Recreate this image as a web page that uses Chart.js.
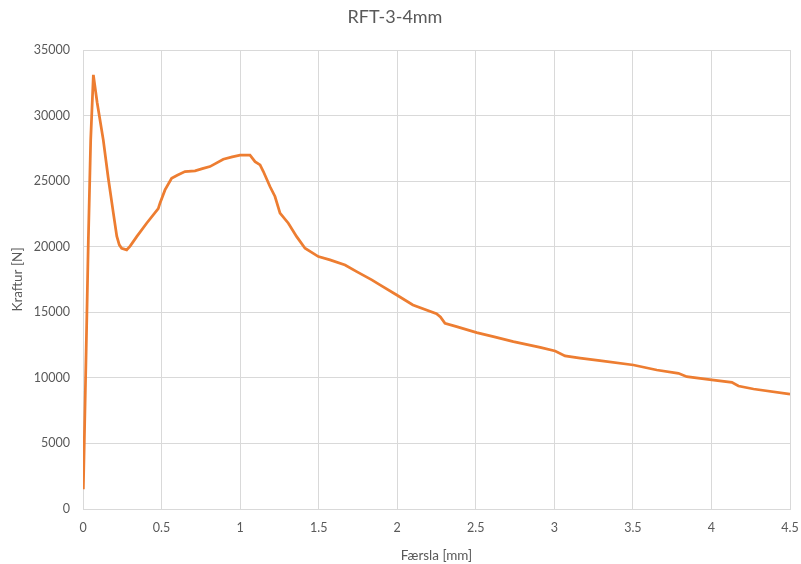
<!DOCTYPE html>
<html>
<head>
<meta charset="utf-8">
<script src="https://cdn.jsdelivr.net/npm/chart.js@4/dist/chart.umd.min.js"></script>
<style>
html,body{margin:0;padding:0;background:#fff;}
#wrap{width:801px;height:564px;position:relative;}
</style>
</head>
<body>
<div id="wrap"><canvas id="c" width="801" height="564"></canvas></div>
<script>
const chartTitle = "RFT-3-4mm";
const xTitle = "Færsla [mm]";
const yTitle = "Kraftur [N]";
const displacement = [0.002, 0.02, 0.034, 0.049, 0.066, 0.09, 0.129, 0.16, 0.193, 0.215, 0.231, 0.246, 0.278, 0.3, 0.342, 0.405, 0.479, 0.49, 0.522, 0.564, 0.6, 0.649, 0.713, 0.76, 0.808, 0.893, 0.95, 1.0, 1.063, 1.095, 1.127, 1.148, 1.19, 1.222, 1.254, 1.307, 1.36, 1.413, 1.498, 1.572, 1.668, 1.742, 1.838, 1.89, 1.997, 2.1, 2.25, 2.275, 2.304, 2.378, 2.506, 2.612, 2.739, 2.91, 3.005, 3.068, 3.164, 3.29, 3.503, 3.652, 3.79, 3.843, 4.002, 4.13, 4.172, 4.268, 4.5];
const force = [1500, 12000, 20500, 28150, 33100, 31000, 28150, 25300, 22580, 20800, 20140, 19880, 19760, 20050, 20770, 21790, 22900, 23320, 24330, 25220, 25450, 25730, 25780, 25950, 26110, 26670, 26850, 26980, 26980, 26490, 26240, 25730, 24590, 23830, 22560, 21790, 20770, 19880, 19250, 19000, 18610, 18100, 17470, 17090, 16320, 15560, 14900, 14650, 14160, 13910, 13450, 13150, 12760, 12330, 12050, 11670, 11500, 11310, 10980, 10600, 10350, 10090, 9840, 9660, 9380, 9150, 8750];
const xTicks = [0, 0.5, 1, 1.5, 2, 2.5, 3, 3.5, 4, 4.5];
const yTicks = [0, 5000, 10000, 15000, 20000, 25000, 30000, 35000];

const points = displacement.map((x, i) => ({x: x, y: force[i]}));
const fontFam = "Lato, 'Open Sans', sans-serif";
const txt = "#595959";
const grid = "#d9d9d9";

new Chart(document.getElementById('c'), {
  type: 'scatter',
  data: {
    datasets: [{
      data: points,
      showLine: true,
      borderColor: '#ED7D31',
      backgroundColor: '#ED7D31',
      borderWidth: 2.75,
      pointRadius: 0,
      tension: 0
    }]
  },
  options: {
    responsive: false,
    animation: false,
    layout: {padding: {left: 0, right: 11, top: 0, bottom: 0}},
    plugins: {
      legend: {display: false},
      tooltip: {enabled: false},
      title: {
        display: true,
        text: chartTitle,
        color: txt,
        font: {family: fontFam, size: 18, weight: 'normal'},
        padding: {top: 6, bottom: 22.4}
      }
    },
    scales: {
      x: {
        type: 'linear',
        min: 0, max: 4.5,
        afterBuildTicks: s => { s.ticks = xTicks.map(v => ({value: v})); },
        afterFit: s => { s.height = 55; s.paddingLeft = 0; s.paddingRight = 0; },
        grid: {color: grid, drawTicks: false, lineWidth: 1},
        border: {color: grid},
        ticks: {color: txt, font: {family: fontFam, size: 12.5}, padding: 11, maxRotation: 0,
          callback: v => String(v)},
        title: {display: true, text: xTitle, color: txt, font: {family: fontFam, size: 13.5}, padding: {top: 1, bottom: 0}}
      },
      y: {
        type: 'linear',
        min: 0, max: 35000,
        afterBuildTicks: s => { s.ticks = yTicks.map(v => ({value: v})); },
        afterFit: s => { s.width = 83; s.paddingTop = 0; s.paddingBottom = 0; },
        grid: {color: grid, drawTicks: false, lineWidth: 1},
        border: {color: grid},
        ticks: {color: txt, font: {family: fontFam, size: 12.5}, padding: 13,
          callback: v => String(v)},
        title: {display: true, text: yTitle, color: txt, font: {family: fontFam, size: 13.5}, padding: {top: 10, bottom: 4}}
      }
    }
  }
});
</script>
</body>
</html>
